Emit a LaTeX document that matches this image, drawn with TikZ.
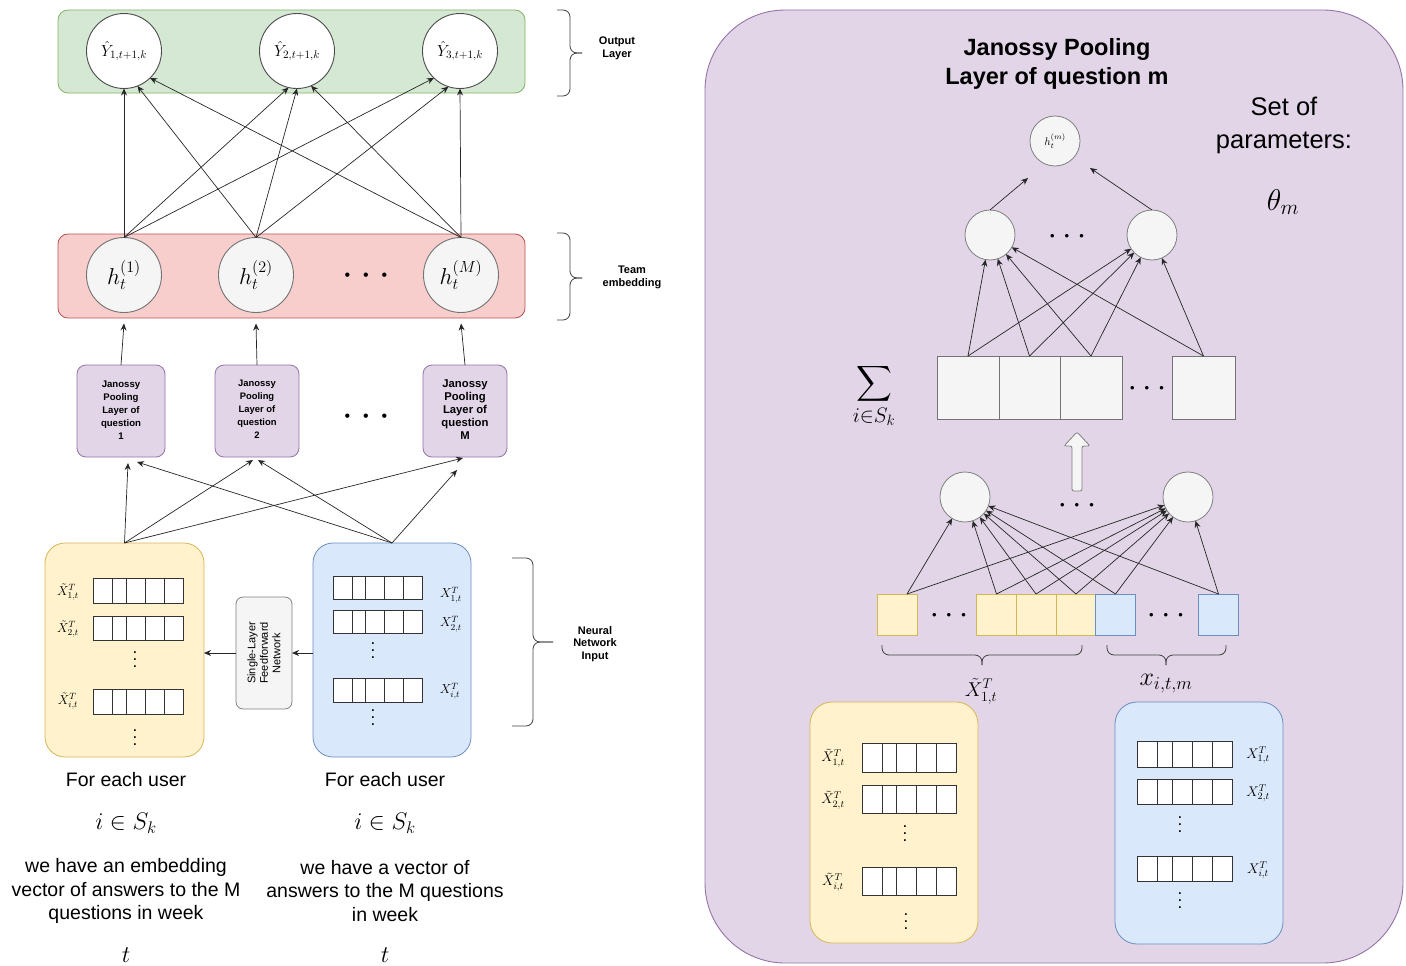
\RequirePackage{fix-cm}
\documentclass[tikz,border=0pt]{standalone}
\usepackage{amsmath}
\usepackage{fontspec}
\setmainfont{Liberation Sans}
\usetikzlibrary{arrows.meta,calc}
\definecolor{gF}{HTML}{D5E8D4}\definecolor{gD}{HTML}{82B366}
\definecolor{rF}{HTML}{F8CECC}\definecolor{rD}{HTML}{B85450}
\definecolor{pF}{HTML}{E1D5E7}\definecolor{pD}{HTML}{9673A6}
\definecolor{yF}{HTML}{FFF2CC}\definecolor{yD}{HTML}{D6B656}
\definecolor{bF}{HTML}{DAE8FC}\definecolor{bD}{HTML}{6C8EBF}
\definecolor{kF}{HTML}{F5F5F5}\definecolor{kD}{HTML}{666666}
\newcommand\fs[2]{\fontsize{#1}{#2}\selectfont}
\newcommand\tdots[1]{\textbullet\hspace{#1}\textbullet\hspace{#1}\textbullet}
\newcommand\vd{\vbox{\baselineskip=7pt\lineskiplimit=-20pt\hbox{.}\hbox{.}\hbox{.}}}
\newcommand\cellrow[4]{\draw[cellst, fill=white] (#1,#2) rectangle ++(#3,#4);
  \foreach \f in {0.215,0.37,0.58,0.79}{\draw[cellst] ({#1+\f*#3},#2) -- ++(0,#4);}}
\begin{document}
\begin{tikzpicture}[x=1pt,y=-1pt,
  every node/.style={inner sep=0pt, outer sep=0pt},
  arr/.style={-{Stealth[length=7pt,width=6pt]}, line width=0.7pt, draw=black!85},
  cellst/.style={draw=black!80, line width=0.9pt},
  brc/.style={draw=black!75, line width=0.8pt, rounded corners=7pt},
  ocirc/.style={circle, draw=black!70, fill=white, minimum size=75pt, line width=0.9pt, font=\fs{16}{18}},
  hcirc/.style={circle, draw=black!55, fill=kF, minimum size=75pt, line width=0.9pt, font=\fs{23}{27}},
  scirc/.style={circle, draw=black!50, fill=kF, minimum size=50pt, line width=0.8pt},
  jbox/.style={draw=pD, fill=pF, rounded corners=9pt, minimum height=92pt, line width=0.8pt, align=center},
  bigsq/.style={draw=black!55, fill=kF, minimum height=63pt, line width=0.9pt},
  ysq/.style={draw=yD, fill=yF, minimum width=40pt, minimum height=41pt, line width=0.8pt},
  bsq/.style={draw=bD, fill=bF, minimum width=40pt, minimum height=41pt, line width=0.8pt},
  smlbl/.style={font=\bfseries\fs{11}{13}, align=center},
  body/.style={font=\fs{19.5}{23.5}, align=center}
]
\useasboundingbox (0,0) rectangle (1406,966);

% ================= LEFT PANEL =================
\node[draw=gD, fill=gF, rounded corners=10pt, minimum width=467pt, minimum height=83pt, line width=0.8pt] (outlayer) at (291.5,51.5) {};
\node[draw=rD, fill=rF, rounded corners=10pt, minimum width=467pt, minimum height=84pt, line width=0.8pt] (teamlayer) at (291.5,276) {};

\node[ocirc] (o1) at (124,51) {$\hat{Y}_{1,t+1,k}$\hspace{14pt}};
\node[ocirc] (o2) at (297,51) {$\hat{Y}_{2,t+1,k}$\hspace{14pt}};
\node[ocirc] (o3) at (460,51) {$\hat{Y}_{3,t+1,k}$\hspace{14pt}};

\node[hcirc] (h1) at (124,275) {$h_t^{(1)}$};
\node[hcirc] (h2) at (256,275) {$h_t^{(2)}$};
\node[hcirc] (hM) at (461,275) {$h_t^{(M)}$};
\node[font=\fs{16}{16}] (hdots) at (366,277) {\tdots{12.9pt}};

\node[jbox, minimum width=88pt, font=\bfseries\fs{9.6}{13}] (j1) at (121,411) {\\[-9pt]Janossy\\Pooling\\Layer of\\question\\1};
\node[jbox, minimum width=84pt, font=\bfseries\fs{9.4}{13}] (j2) at (257,411) {\\[-11pt]Janossy\\Pooling\\Layer of\\question\\2};
\node[jbox, minimum width=84pt, font=\bfseries\fs{11.3}{13}] (jM) at (465,411) {\\[-9pt]Janossy\\Pooling\\Layer of\\question\\M};
\node[font=\fs{16}{16}] (jdots) at (366,418) {\tdots{12.9pt}};

\node[draw=yD, fill=yF, rounded corners=20pt, minimum width=159pt, minimum height=214pt, line width=0.8pt] (yelL) at (124.5,650) {};
\node[draw=bD, fill=bF, rounded corners=20pt, minimum width=158pt, minimum height=214pt, line width=0.8pt] (bluL) at (392,650) {};
\node[draw=black!50, fill=kF, rounded corners=7pt, minimum width=56pt, minimum height=112pt, line width=0.8pt] (slfn) at (264,653) {};
\node[rotate=90, font=\fs{11}{12.5}, align=center] (slfntxt) at (264,653) {Single-Layer\\Feedforward\\Network};

% yellow rows
\cellrow{93}{578}{90}{25}
\cellrow{93}{616}{90}{24}
\cellrow{93}{689}{90}{25}
\node[font=\fs{13}{15}] (ylx1) at (68,592) {$\tilde{X}^T_{1,t}$};
\node[font=\fs{13}{15}] (ylx2) at (68,629) {$\tilde{X}^T_{2,t}$};
\node[font=\fs{13}{15}] (ylx3) at (68,701) {$\tilde{X}^T_{i,t}$};
\node[font=\fs{17}{17}] (yld1) at (135,660) {\vd};
\node[font=\fs{17}{17}] (yld2) at (135,738) {\vd};
% blue rows
\cellrow{333}{576}{89}{23}
\cellrow{333}{610}{89}{23}
\cellrow{333}{678}{89}{24}
\node[font=\fs{13}{15}] (blx1) at (451,595) {$X^T_{1,t}$};
\node[font=\fs{13}{15}] (blx2) at (451,624) {$X^T_{2,t}$};
\node[font=\fs{13}{15}] (blx3) at (450,691) {$X^T_{i,t}$};
\node[font=\fs{17}{17}] (bld1) at (373,651) {\vd};
\node[font=\fs{17}{17}] (bld2) at (373,718) {\vd};

% braces + labels
\draw[brc] (557,10) -- (570,10) -- (570,53) -- (582,53);
\draw[brc] (557,96) -- (570,96) -- (570,53) -- (582,53);
\node[smlbl] (outlbl) at (617,48) {Output\\Layer};
\draw[brc] (557,233) -- (570,233) -- (570,278) -- (582,278);
\draw[brc] (557,320) -- (570,320) -- (570,278) -- (582,278);
\node[smlbl] (teamlbl) at (632,277) {Team\\embedding};
\draw[brc] (512,558) -- (533,558) -- (533,642) -- (553,642);
\draw[brc] (512,726) -- (533,726) -- (533,642) -- (553,642);
\node[smlbl, font=\bfseries\fs{11}{12.5}] (nnilbl) at (595,644) {Neural\\Network\\Input};

% bottom texts
\node[body] (fe1) at (126,780) {For each user};
\node[font=\fs{24}{28}] (s1) at (126,823) {$i \in S_k$};
\node[body] (we1) at (126,891) {we have an embedding\\vector of answers to the M\\questions in week};
\node[font=\fs{24}{28}] (t1) at (126,955) {$t$};
\node[body] (fe2) at (385,780) {For each user};
\node[font=\fs{24}{28}] (s2) at (385,823) {$i \in S_k$};
\node[body] (we2) at (385,891) {we have a vector of\\answers to the M questions\\in week};
\node[font=\fs{24}{28}] (t2) at (385,955) {$t$};

% connectors left
\foreach \s/\a in {h1/-90, h2/-69, hM/-46} \draw[arr] (\s.north) -- (o1.\a);
\foreach \s/\a in {h1/-103, h2/-90, hM/-68} \draw[arr] (\s.north) -- (o2.\a);
\foreach \s/\a in {h1/-134, h2/-108, hM/-90} \draw[arr] (\s.north) -- (o3.\a);
\draw[arr] (j1.north) -- ($(h1.south)+(0,11)$);
\draw[arr] (j2.north) -- ($(h2.south)+(0,11)$);
\draw[arr] (jM.north) -- ($(hM.south)+(0,11)$);
\draw[arr] (yelL.north) -- ($(j1.south)+(7,6)$);
\draw[arr] (bluL.north) -- ($(j1.south)+(16,5)$);
\draw[arr] (yelL.north) -- ($(j2.south)+(-4,3)$);
\draw[arr] (bluL.north) -- ($(j2.south)+(1,3)$);
\draw[arr] (yelL.north) -- ($(jM.south)+(-2,1)$);
\draw[arr] (bluL.north) -- ($(jM.south)+(-8,13)$);
\draw[arr] (bluL.west |- slfn.east) -- (slfn.east);
\draw[arr] (slfn.west) -- (yelL.east |- slfn.west);

% ================= RIGHT PANEL =================
\node[draw=pD, fill=pF, rounded corners=80pt, minimum width=698pt, minimum height=953pt, line width=0.9pt] (panel) at (1054,486.5) {};
\node[font=\bfseries\fs{23.5}{29}, align=center] (title) at (1057,64) {Janossy Pooling\\Layer of question m};
\node[font=\fs{25.5}{33}, align=center] (sop) at (1284,125) {Set of\\parameters:};
\node[font=\fs{30}{34}] (theta) at (1283,202) {$\theta_m$};

\node[scirc, font=\fs{11}{12}] (hm) at (1055,141) {$h_t^{(m)}$};
\node[scirc] (c1) at (990,235) {};
\node[scirc] (c2) at (1152,235) {};
\node[font=\fs{13}{13}] (cdots) at (1067,237) {\tdots{10pt}};

\node[bigsq, minimum width=62pt] (b1) at (968,387.5) {};
\node[bigsq, minimum width=61pt] (b2) at (1029.5,387.5) {};
\node[bigsq, minimum width=62pt] (b3) at (1091,387.5) {};
\node[bigsq, minimum width=63pt] (b4) at (1203.5,387.5) {};
\node[font=\fs{13}{13}] (bdots) at (1147,389) {\tdots{10pt}};
\node[font=\fs{30}{36}] (sum) at (874,396) {$\displaystyle\sum_{i\in S_k}$};

\draw[draw=black!50, fill=kF, line width=0.8pt, rounded corners=2pt] (1072,491) -- (1072,446) -- (1064,446) -- (1077,432) -- (1090,446) -- (1082,446) -- (1082,491) -- cycle;

\node[scirc] (d1) at (965,497) {};
\node[scirc] (d2) at (1188,497) {};
\node[font=\fs{13}{13}] (ddots) at (1077,506) {\tdots{10pt}};

\node[ysq] (q1) at (897,614.5) {};
\node[ysq] (q2) at (996.5,614.5) {};
\node[ysq] (q3) at (1036,614.5) {};
\node[ysq] (q4) at (1076,614.5) {};
\node[bsq] (q5) at (1115.5,614.5) {};
\node[bsq] (q6) at (1218.5,614.5) {};
\node[font=\fs{13}{13}] (qdots1) at (949,616) {\tdots{10pt}};
\node[font=\fs{13}{13}] (qdots2) at (1166,616) {\tdots{10pt}};

\draw[brc] (882,645) -- (882,655) -- (982,655) -- (982,665);
\draw[brc] (1082,645) -- (1082,655) -- (982,655) -- (982,665);
\draw[brc] (1107,645) -- (1107,655) -- (1166,655) -- (1166,665);
\draw[brc] (1226,645) -- (1226,655) -- (1166,655) -- (1166,665);
\node[font=\fs{20}{24}] (xtl) at (981,691) {$\tilde{X}^T_{1,t}$};
\node[font=\fs{26}{30}] (xitm) at (1166,684) {$x_{i,t,m}$};

\node[draw=yD, fill=yF, rounded corners=22pt, minimum width=168pt, minimum height=241pt, line width=0.8pt] (yelR) at (894,822.5) {};
\node[draw=bD, fill=bF, rounded corners=22pt, minimum width=168pt, minimum height=242pt, line width=0.8pt] (bluR) at (1199,823) {};
\cellrow{862}{743}{94}{29}
\cellrow{862}{785}{94}{28}
\cellrow{862}{867}{94}{28}
\node[font=\fs{14}{16}] (yrx1) at (833,758) {$\tilde{X}^T_{1,t}$};
\node[font=\fs{14}{16}] (yrx2) at (833,800) {$\tilde{X}^T_{2,t}$};
\node[font=\fs{14}{16}] (yrx3) at (833,882) {$\tilde{X}^T_{i,t}$};
\node[font=\fs{17}{17}] (yrd1) at (905,834) {\vd};
\node[font=\fs{17}{17}] (yrd2) at (906,922) {\vd};
\cellrow{1137}{741}{95}{26}
\cellrow{1137}{779}{95}{25}
\cellrow{1137}{856}{95}{25}
\node[font=\fs{14}{16}] (brx1) at (1258,755) {$X^T_{1,t}$};
\node[font=\fs{14}{16}] (brx2) at (1258,793) {$X^T_{2,t}$};
\node[font=\fs{14}{16}] (brx3) at (1258,870) {$X^T_{i,t}$};
\node[font=\fs{17}{17}] (brd1) at (1180,825) {\vd};
\node[font=\fs{17}{17}] (brd2) at (1180,901) {\vd};

% connectors right
\draw[arr] (c1.north) -- ($(hm)+(-27,37)$);
\draw[arr] (c2.north) -- ($(hm)+(35,27)$);
\foreach \b in {b1,b2,b3,b4}{\draw[arr] (\b.north) -- (c1); \draw[arr] (\b.north) -- (c2);}
\draw[arr] ($(q1.north)+(10,0)$) -- (d1);
\draw[arr] ($(q1.north)+(10,0)$) -- (d2);
\foreach \q in {q2,q3,q4,q5,q6}{\draw[arr] (\q.north) -- (d1); \draw[arr] (\q.north) -- (d2);}
\end{tikzpicture}
\end{document}
